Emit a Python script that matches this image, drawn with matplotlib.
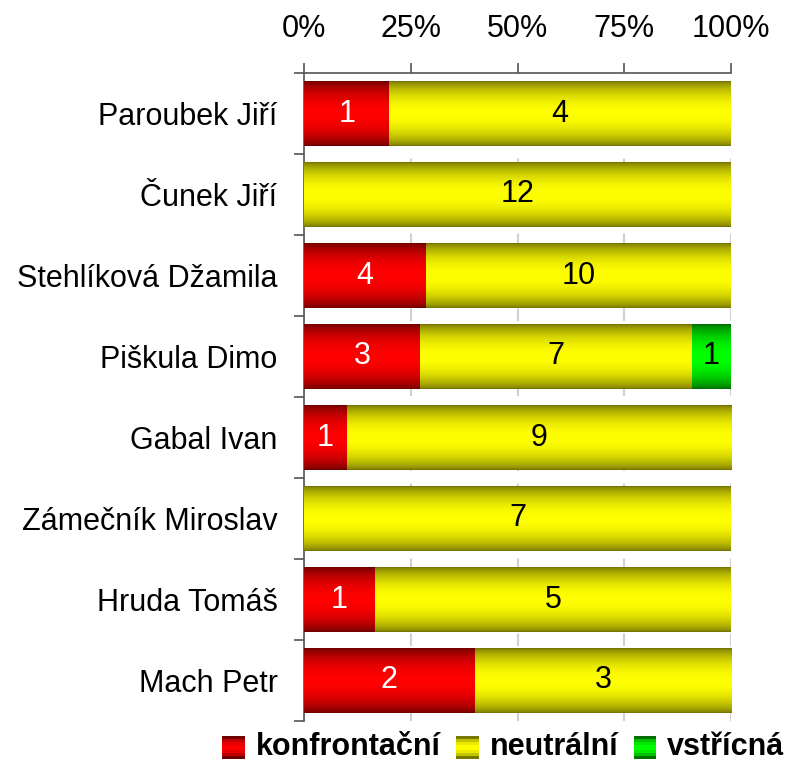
import matplotlib
matplotlib.use("Agg")
import matplotlib.pyplot as plt
import matplotlib.patches as mpatches
from matplotlib.legend_handler import HandlerBase
import numpy as np

plt.rcParams["font.family"] = ["Liberation Sans", "DejaVu Sans"]

names = ["Paroubek Jiří", "Čunek Jiří", "Stehlíková Džamila", "Piškula Dimo",
         "Gabal Ivan", "Zámečník Miroslav", "Hruda Tomáš", "Mach Petr"]
konfrontacni = [1, 0, 4, 3, 1, 0, 1, 2]
neutralni = [4, 12, 10, 7, 9, 7, 5, 3]
vstricna = [0, 0, 0, 1, 0, 0, 0, 0]
series_labels = ["konfrontační", "neutrální", "vstřícná"]
xtick_labels = ["0%", "25%", "50%", "75%", "100%"]

# (edge colour, centre colour, label colour)
STYLES = [
    ((0.44, 0.0, 0.0), (1.0, 0.0, 0.0), "white"),
    ((0.47, 0.47, 0.0), (1.0, 1.0, 0.0), "black"),
    ((0.0, 0.44, 0.0), (0.0, 1.0, 0.0), "black"),
]
FS = 22


def gradient(edge, centre, n=64):
    t = np.linspace(0, 1, n)
    f = np.sin(np.pi * t) ** 0.7
    e = np.array(edge)
    c = np.array(centre)
    return (e[None, :] + (c - e)[None, :] * f[:, None])[:, None, :]


class GradientHandler(HandlerBase):
    def __init__(self, edge, centre):
        super().__init__()
        self.edge = edge
        self.centre = centre

    def create_artists(self, legend, orig_handle, xdescent, ydescent,
                       width, height, fontsize, trans):
        size = min(width, height)
        x0 = -xdescent + (width - size) / 2
        y0 = -ydescent + (height - size) / 2 - 2
        n = 8
        cols = gradient(self.edge, self.centre, n)[:, 0, :]
        arts = []
        for i in range(n):
            r = mpatches.Rectangle((x0, y0 + size * i / n), size, size / n + 0.3,
                                   facecolor=cols[i], edgecolor="none",
                                   transform=trans)
            arts.append(r)
        return arts


data = np.array([konfrontacni, neutralni, vstricna], dtype=float)
totals = data.sum(axis=0)
pct = data / totals * 100

fig = plt.figure(figsize=(7.89, 7.67), dpi=100)
ax = fig.add_axes([304 / 789, 46 / 767, 427 / 789, 648 / 767])

y = np.arange(len(names))
left = np.zeros(len(names))
handles = []
for k in range(3):
    edge, centre, tcol = STYLES[k]
    bars = ax.barh(y, pct[k], left=left, height=0.8, color=centre,
                   edgecolor="none", zorder=2)
    img = gradient(edge, centre)
    for bar, cnt in zip(bars, data[k]):
        if cnt <= 0:
            continue
        x0, y0 = bar.get_x(), bar.get_y()
        w, h = bar.get_width(), bar.get_height()
        ax.imshow(img, extent=[x0, x0 + w, y0, y0 + h], aspect="auto",
                  interpolation="bilinear", zorder=3)
        ax.text(x0 + w / 2, y0 + h / 2, f"{int(cnt)}", ha="center", va="center",
                color=tcol, fontsize=FS, zorder=4)
    handles.append(mpatches.Patch(color=centre, label=series_labels[k]))
    left = left + pct[k]

ax.set_xlim(0, 100)
ax.set_ylim(len(names) - 0.5, -0.5)

ax.xaxis.tick_top()
ax.set_xticks([0, 25, 50, 75, 100])
ax.set_xticklabels(xtick_labels, fontsize=FS)
ax.tick_params(axis="x", direction="out", length=7, width=1.2, color="#555555", pad=14)

ax.set_yticks(y)
ax.set_yticklabels(names, fontsize=FS)
ax.tick_params(axis="y", which="major", length=0, pad=19)
ax.set_yticks(np.arange(len(names) + 1) - 0.5, minor=True)
ax.tick_params(axis="y", which="minor", direction="out", length=7, width=1.2, color="#555555")

for s in ["right", "bottom"]:
    ax.spines[s].set_visible(False)
for s in ["left", "top"]:
    ax.spines[s].set_color("#555555")
    ax.spines[s].set_linewidth(1.2)

ax.grid(axis="x", color="#d0d0d0", linestyle=(0, (6, 6)), linewidth=1.5, zorder=0)
ax.set_axisbelow(True)

hmap = {h: GradientHandler(STYLES[i][0], STYLES[i][1]) for i, h in enumerate(handles)}
fig.legend(handles=handles, handler_map=hmap, loc="lower center",
           bbox_to_anchor=(0.638, -0.022), ncol=3, frameon=False,
           prop={"size": FS, "weight": "bold"}, handlelength=0.75,
           handleheight=0.75, handletextpad=0.35, columnspacing=0.5,
           borderpad=0.2)

fig.savefig("out.png", dpi=100)
